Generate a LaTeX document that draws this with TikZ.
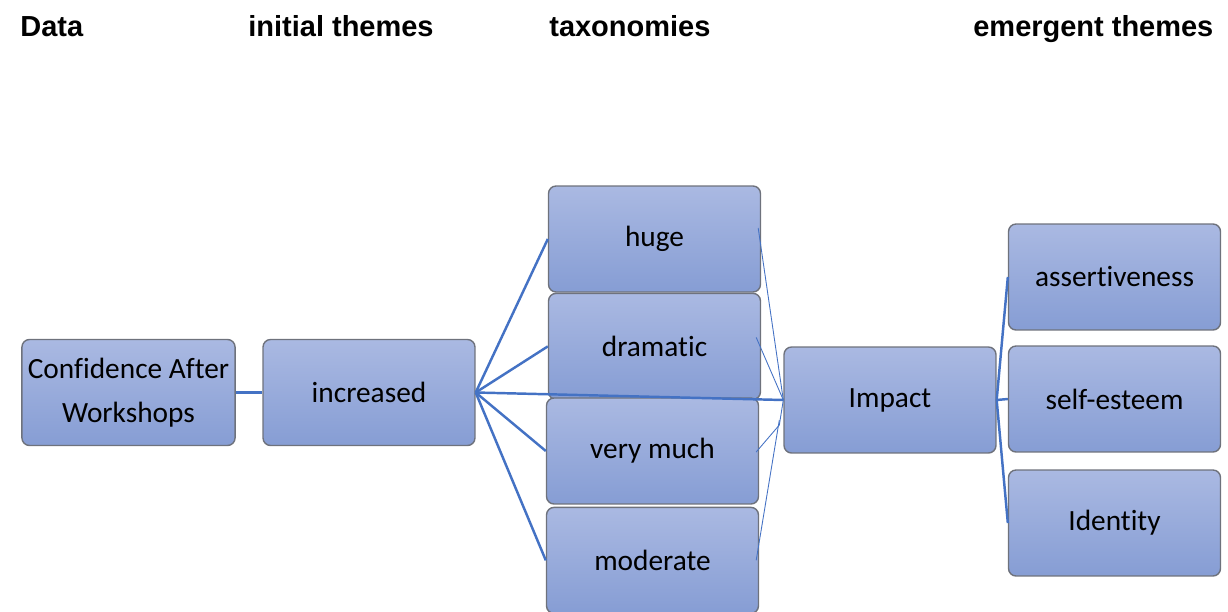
\documentclass[tikz,border=0pt]{standalone}
\usepackage{fontspec}
\setmainfont{Carlito}[Ligatures={NoCommon}]
\newfontfamily\headfont{Liberation Sans}
\usetikzlibrary{positioning}
\definecolor{boxtop}{RGB}{170,185,226}
\definecolor{boxbot}{RGB}{134,157,212}
\definecolor{boxline}{RGB}{110,114,124}
\definecolor{linkblue}{RGB}{68,114,196}

\begin{document}
\begin{tikzpicture}[x=0.02cm, y=-0.02cm, node distance=0cm]
\tikzstyle{theme} = [rectangle, rounded corners=0.15cm, minimum width=4.24cm, minimum height=2.12cm, align=center, draw=boxline, line width=0.8pt, top color=boxtop, bottom color=boxbot, font=\fontsize{16.7}{25}\selectfont]
\tikzstyle{heading} = [anchor=base west, inner sep=0pt, font=\headfont\bfseries\fontsize{16.5}{19}\selectfont]
\tikzstyle{link} = [draw=linkblue, line width=1.4pt]
\tikzstyle{thinlink} = [draw=linkblue, line width=0.5pt]

\useasboundingbox (0,0) rectangle (1228,612);

% column headings
\node (hData) [heading] at (20,36) {Data};
\node (hInitial) [heading] at (248,36) {initial themes};
\node (hTax) [heading] at (549,36) {taxonomies};
\node (hEmerg) [heading] at (973,36) {emergent themes};

% boxes
\node (conf) [theme] at (128.5,392.5) {Confidence After\\Workshops};
\node (incr) [theme] at (369,392.5) {increased};
\node (huge) [theme] at (654.5,239) {huge};
\node (dram) [theme, below=0pt of huge] {dramatic};
\node (very) [theme] at (652.5,451) {very much};
\node (mod) [theme, below=0.04cm of very] {moderate};
\node (impact) [theme] at (890,400) {Impact};
\node (assert) [theme] at (1114.5,277) {assertiveness};
\node (self) [theme] at (1114.5,399) {self-esteem};
\node (ident) [theme] at (1114.5,523) {Identity};

\draw [link] (conf) -- (incr);
\draw [link] (incr.east) -- (huge.west);
\draw [link] (incr.east) -- (dram.west);
\draw [link] (incr.east) -- (very.west);
\draw [link] (incr.east) -- (mod.west);
\draw [link] (incr.east) -- (impact.west);

\draw [thinlink] ([shift={(-3,-11)}]huge.east) -- (impact.west);
\draw [thinlink] ([shift={(-5,-9)}]dram.east) -- (impact.west);
\draw [thinlink] ([shift={(-3,1)}]very.east) -- ([shift={(-4,25)}]impact.west) -- (impact.west);
\draw [thinlink] ([shift={(-3,0)}]mod.east) -- ([shift={(-4,20)}]impact.west);

\draw [link] (impact.east) -- (assert.west);
\draw [link] (impact.east) -- (self.west);
\draw [link] (impact.east) -- (ident.west);

\end{tikzpicture}
\end{document}
